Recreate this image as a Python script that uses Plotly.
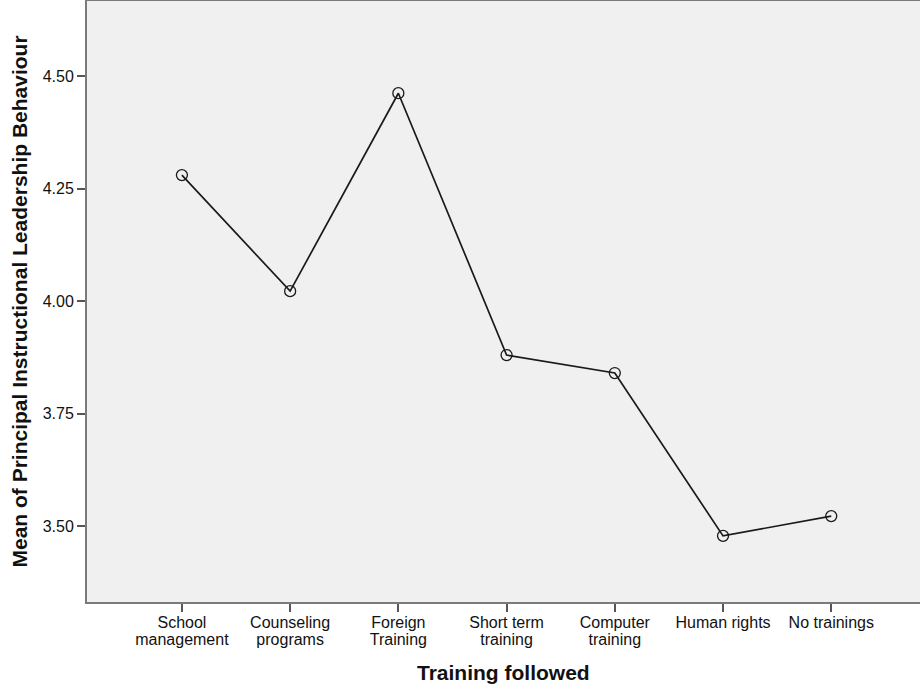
import plotly.graph_objects as go

categories = ["School<br>management", "Counseling<br>programs", "Foreign<br>Training",
              "Short term<br>training", "Computer<br>training", "Human rights", "No trainings"]
means = [4.280, 4.022, 4.462, 3.880, 3.840, 3.478, 3.522]
y_ticks = [3.50, 3.75, 4.00, 4.25, 4.50]
y_tick_labels = ["3.50", "3.75", "4.00", "4.25", "4.50"]
x_title = "Training followed"
y_title = "Mean of Principal Instructional Leadership Behaviour"

x_idx = list(range(len(categories)))
first_lines = [c.split("<br>")[0] for c in categories]
second_lines = [c.split("<br>")[1] if "<br>" in c else " " for c in categories]

fig = go.Figure()
fig.add_trace(go.Scatter(
    x=x_idx, y=means, mode="lines+markers",
    line=dict(color="#1a1a1a", width=1.7),
    marker=dict(symbol="circle-open", size=11, color="#1a1a1a", line=dict(width=1.3)),
    hoverinfo="skip", showlegend=False,
))
# invisible trace to carry the second line of the category labels
fig.add_trace(go.Scatter(
    x=x_idx, y=means, xaxis="x2", mode="markers", marker=dict(opacity=0),
    hoverinfo="skip", showlegend=False,
))

font_family = "Liberation Sans, Arial, sans-serif"
xrange = [-0.877, 6.82]
fig.update_layout(
    width=920, height=688,
    margin=dict(l=87, r=0, t=1, b=86),
    paper_bgcolor="white", plot_bgcolor="#F0F0F0",
    font=dict(family=font_family, size=16, color="#111111"),
    xaxis=dict(
        range=xrange, tickmode="array", tickvals=x_idx, ticktext=first_lines,
        showgrid=False, zeroline=False, automargin=False,
        showline=True, linecolor="#7a7a7a", linewidth=2, mirror=True,
        ticks="outside", ticklen=8, tickwidth=2, tickcolor="#555555",
        ticklabelstandoff=-3, tickfont=dict(size=16),
    ),
    xaxis2=dict(
        range=xrange, overlaying="x", anchor="y", side="bottom",
        tickmode="array", tickvals=x_idx, ticktext=second_lines,
        showgrid=False, zeroline=False, automargin=False, showline=False,
        ticks="", ticklabelstandoff=26, tickfont=dict(size=16),
    ),
    yaxis=dict(
        range=[3.331, 4.667], tickmode="array", tickvals=y_ticks, ticktext=y_tick_labels,
        showgrid=False, zeroline=False, automargin=False,
        showline=True, linecolor="#7a7a7a", linewidth=2,
        ticks="outside", ticklen=8, tickwidth=2, tickcolor="#555555",
        tickfont=dict(size=16),
    ),
    annotations=[
        dict(text="<b>%s</b>" % x_title, xref="paper", yref="paper", x=0.5, y=0,
             yshift=-70, xanchor="center", yanchor="middle", showarrow=False,
             font=dict(size=21)),
        dict(text="<b>%s</b>" % y_title, xref="paper", yref="paper", x=0, y=0.5,
             xshift=-68, xanchor="center", yanchor="middle", textangle=-90,
             showarrow=False, font=dict(size=21)),
    ],
)

fig.write_html("out.html", config={"displayModeBar": False},
               post_script="document.body.style.margin='0';")
